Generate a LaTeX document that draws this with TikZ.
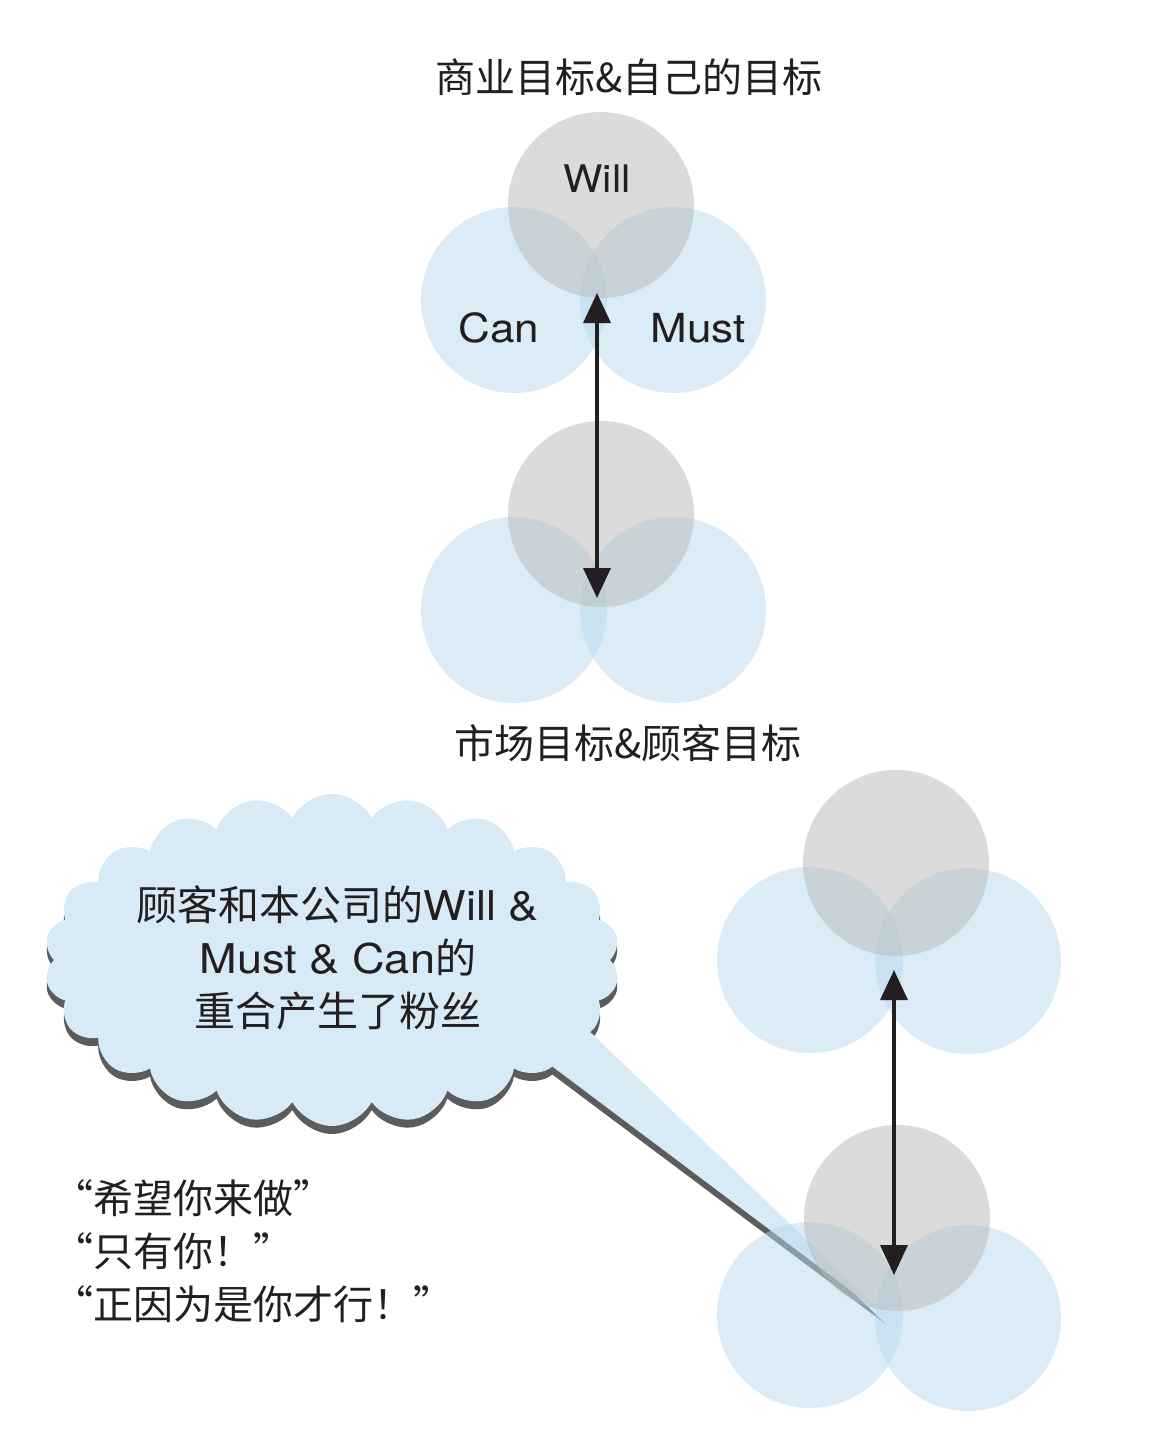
\documentclass[tikz,border=0pt]{standalone}
\usepackage{fontspec}
\setmainfont{TeX Gyre Heros}[FakeStretch=1.1]
\newfontfamily\cjk{Noto Sans CJK SC}
\usetikzlibrary{arrows.meta,shapes.symbols,shadows}
\definecolor{vblue}{RGB}{185,219,241}
\definecolor{vgray}{RGB}{185,185,185}
\definecolor{cloudfill}{RGB}{215,234,246}
\definecolor{shadowc}{RGB}{92,92,92}
\definecolor{txt}{RGB}{35,31,32}
\tikzset{
  bluec/.style={circle, fill=vblue, fill opacity=0.5, draw=none, minimum size=186pt, inner sep=0pt},
  grayc/.style={circle, fill=vgray, fill opacity=0.5, draw=none, minimum size=186pt, inner sep=0pt},
  cjktext/.style={text=txt, font=\cjk\fontsize{40}{53}\selectfont, inner sep=0pt},
  lattext/.style={text=txt, inner sep=0pt},
  biarrow/.style={draw=txt, line width=3.5pt, {Triangle[length=30pt,width=27pt]}-{Triangle[length=30pt,width=27pt]}},
}
\begin{document}
\begin{tikzpicture}[x=1pt,y=-1pt]
\useasboundingbox (0,0) rectangle (1154,1436);
\fill[white] (0,0) rectangle (1154,1436);

% titles
\node[cjktext] (title1) at (629,77) {商业目标\&自己的目标};
\node[cjktext] (title2) at (628,743) {市场目标\&顾客目标};

% speech cloud: tail shadow, cloud (with shadow), tail
\fill[shadowc] (513,1045) -- (560,1011) -- (887,1325) -- cycle;
\node[cloud, cloud puffs=22, cloud puff arc=125, aspect=1.73,
      minimum width=575pt, minimum height=332pt, fill=cloudfill, draw=none,
      drop shadow={shadow xshift=0pt, shadow yshift=-8pt, fill=shadowc, opacity=1}] (cloud) at (332,960) {};
\fill[cloudfill] (513,1037) -- (560,1003) -- (890,1320) -- cycle;

\node[text=txt, inner sep=0pt, align=center, font=\fontsize{41}{53}\selectfont] (cloudtext) at (338,958)
  {{\cjk 顾客和本公司的}Will \&\\Must \& Can{\cjk 的}\\{\cjk 重合产生了粉丝}};

% quotes
\node[cjktext, anchor=west, align=left] (quotes) at (53,1251)
  {“希望你来做”\\“只有你！”\\“正因为是你才行！”};

% group 1 (top)
\node[bluec] (can1) at (514,300) {};
\node[bluec] (must1) at (673,300) {};
\node[grayc] (will1) at (601,205) {};
% group 2 (middle)
\node[bluec] (can2) at (514,610) {};
\node[bluec] (must2) at (673,610) {};
\node[grayc] (will2) at (601,514) {};
% group 3 (bottom right, upper)
\node[bluec] (can3) at (810,960) {};
\node[bluec] (must3) at (968,961) {};
\node[grayc] (will3) at (896,863) {};
% group 4 (bottom right, lower)
\node[bluec] (can4) at (810,1315) {};
\node[bluec] (must4) at (968,1318) {};
\node[grayc] (will4) at (897,1218) {};

% labels
\node[lattext, font=\fontsize{38}{40}\selectfont] (lwill) at (597,179) {Will};
\node[lattext, font=\fontsize{40}{40}\selectfont] (lcan) at (499,328) {Can};
\node[lattext, font=\fontsize{40}{40}\selectfont] (lmust) at (698,328) {Must};

% arrows
\coordinate (a1top) at (597,293);
\coordinate (a1bot) at (597,598);
\coordinate (a2top) at (894,970);
\coordinate (a2bot) at (894,1275);
\draw[biarrow] (a1top) -- (a1bot);
\draw[biarrow] (a2top) -- (a2bot);
\end{tikzpicture}
\end{document}
